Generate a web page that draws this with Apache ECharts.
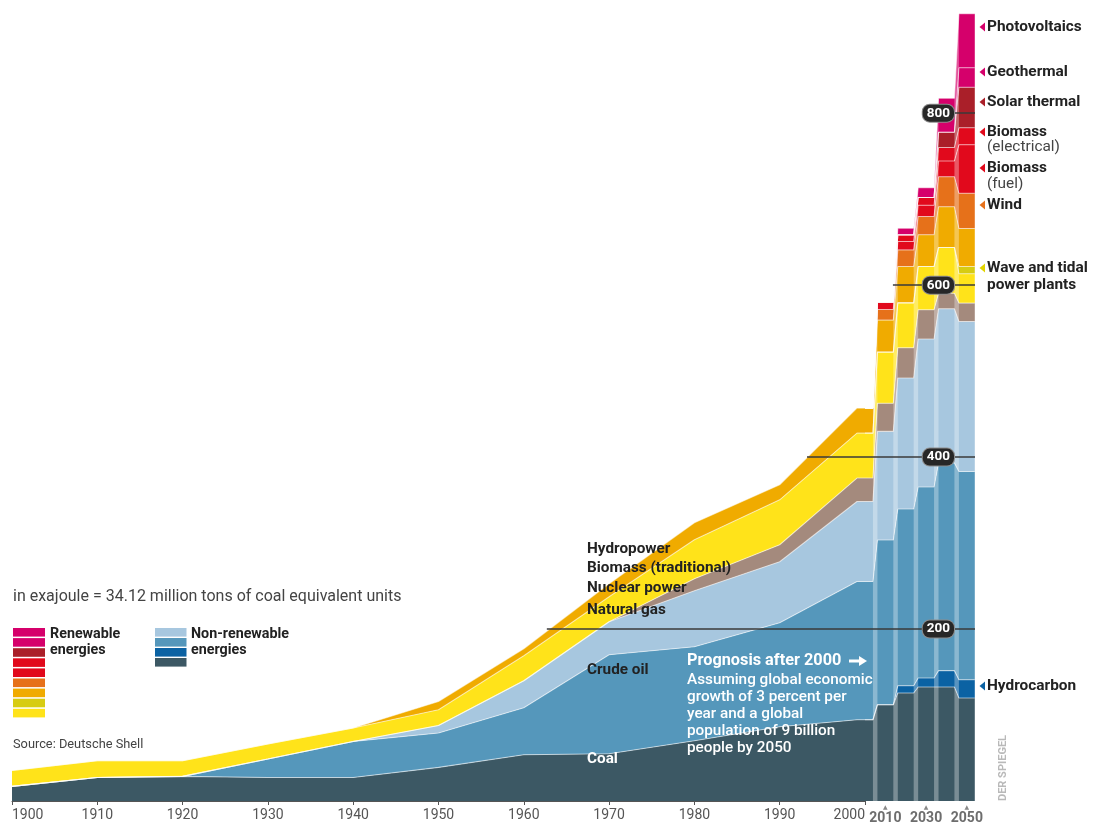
<!DOCTYPE html>
<html><head><meta charset="utf-8">
<script src="https://cdn.jsdelivr.net/npm/echarts@6/dist/echarts.min.js"></script>
<style>html,body{margin:0;padding:0;background:#fff}#c{width:1096px;height:826px}</style>
</head><body><div id="c"></div>
<script>
// ---------- data (exajoule) ----------
const histYears = [1900, 1910, 1920, 1930, 1940, 1950, 1960, 1970, 1980, 1990, 2000];
const coalHist        = [17.0, 27.4, 28.6, 27.4, 27.4, 39.1, 53.8, 55.0, 70.1, 86.4, 94.5];
const crudeHist       = [0, 0, 0, 21.4, 41.9, 40.0, 54.7, 115.1, 109.3, 120.9, 160.8];
const gasHist         = [0, 0, 0, 0, 0, 8.8, 31.4, 38.4, 65.1, 71.0, 93.1];
const nuclearHist     = [0, 0, 0, 0, 0, 0, 0, 0, 14.0, 19.7, 27.2];
const biomassTradHist = [18.6, 19.5, 18.3, 17.5, 15.6, 18.3, 29.1, 29.1, 45.3, 52.3, 52.3];
const hydroHist       = [0, 0, 0, 0, 0, 9.6, 8.1, 15.1, 19.8, 17.5, 29.1];

const forecastYears = [2000, 2010, 2020, 2030, 2040, 2050];
const coalFc         = [94.5, 112.0, 125.6, 132.6, 132.6, 119.8];
const hydrocarbonFc  = [0, 0, 8.5, 10.5, 19.0, 21.3];
const crudeFc        = [160.8, 191.5, 205.5, 222.1, 241.5, 242.2];
const gasFc          = [93.1, 126.4, 152.3, 172.1, 179.4, 174.4];
const nuclearFc      = [27.2, 32.8, 35.2, 34.1, 18.0, 21.4];
const biomassTradFc  = [52.3, 59.4, 52.3, 50.3, 53.3, 34.1];
const waveFc         = [0, 0, 0, 0, 0, 8.5];
const hydroFc        = [29.1, 37.2, 42.2, 36.9, 47.4, 44.1];
const windFc         = [0, 12.4, 19.4, 21.3, 34.9, 41.0];
const bioFuelFc      = [0, 8.5, 9.7, 13.0, 18.3, 56.4];
const bioElecFc      = [0, 0, 7.8, 9.1, 15.7, 19.8];
const solarThermalFc = [0, 0, 0, 0, 17.8, 47.1];
const geothermalFc   = [0, 0, 0, 0, 0, 22.7];
const pvFc           = [0, 0, 7.8, 11.3, 39.4, 62.8];

const yTicks = [200, 400, 600, 800];
const refLineStartA = {200: 1962.7, 400: 1993.2};        // where the reference lines begin (years)
const refLineStartB = {200: 2000, 400: 2000, 600: 2013.7, 800: 2033};

// ---------- styling ----------
const C = {
  coal: '#3c5864', hydrocarbon: '#0b62a3', crude: '#5597bb', gas: '#a7c7df',
  nuclear: '#a48a7d', bioTrad: '#ffe31a', wave: '#d7cc12', hydro: '#f0ab00',
  wind: '#e6711a', bioFuel: '#e1091c', bioElec: '#e1091c', solarTh: '#aa1f29',
  geo: '#d5006b', pv: '#d5006b'
};
const HALF = 3.9;          // half column width (years, forecast axis)
const PLATEAU_A = 0.94;    // same half width expressed on the historic axis
const Y_MAX = 920;
const FONT = 'Roboto, "Noto Sans", sans-serif';

// rows are [value, year] so that the stacked dimension is the value
function histData(vals) {
  const out = histYears.map((y, i) => [vals[i], y]);
  const last = out.pop();
  out.push([last[0], last[1] - PLATEAU_A], last);
  return out;
}
function fcData(vals) {
  const out = [[vals[0], forecastYears[0]], [vals[0], forecastYears[0] + HALF]];
  for (let i = 1; i < forecastYears.length; i++) {
    out.push([vals[i], forecastYears[i] - HALF], [vals[i], forecastYears[i] + HALF]);
  }
  return out;
}
function layer(name, data, color, axis) {
  return {
    name, type: 'line', stack: axis === 0 ? 'hist' : 'fc',
    xAxisIndex: axis, yAxisIndex: axis, data, encode: { x: 1, y: 0 },
    showSymbol: false, symbol: 'none', silent: true, animation: false,
    lineStyle: { width: 1.1, color: 'rgba(255,255,255,0.55)' },
    areaStyle: { color, opacity: 1 }
  };
}

const histSeries = [
  layer('Coal', histData(coalHist), C.coal, 0),
  layer('Crude oil', histData(crudeHist), C.crude, 0),
  layer('Natural gas', histData(gasHist), C.gas, 0),
  layer('Nuclear power', histData(nuclearHist), C.nuclear, 0),
  layer('Biomass (traditional)', histData(biomassTradHist), C.bioTrad, 0),
  layer('Hydropower', histData(hydroHist), C.hydro, 0)
];
const fcSeries = [
  layer('Coal', fcData(coalFc), C.coal, 1),
  layer('Hydrocarbon', fcData(hydrocarbonFc), C.hydrocarbon, 1),
  layer('Crude oil', fcData(crudeFc), C.crude, 1),
  layer('Natural gas', fcData(gasFc), C.gas, 1),
  layer('Nuclear power', fcData(nuclearFc), C.nuclear, 1),
  layer('Biomass (traditional)', fcData(biomassTradFc), C.bioTrad, 1),
  layer('Wave and tidal power plants', fcData(waveFc), C.wave, 1),
  layer('Hydropower', fcData(hydroFc), C.hydro, 1),
  layer('Wind', fcData(windFc), C.wind, 1),
  layer('Biomass (fuel)', fcData(bioFuelFc), C.bioFuel, 1),
  layer('Biomass (electrical)', fcData(bioElecFc), C.bioElec, 1),
  layer('Solar thermal', fcData(solarThermalFc), C.solarTh, 1),
  layer('Geothermal', fcData(geothermalFc), C.geo, 1),
  layer('Photovoltaics', fcData(pvFc), C.pv, 1)
];

// lighter gaps between the forecast columns (custom series on the forecast axes)
const gapData = [];
for (let i = 0; i < forecastYears.length - 1; i++) {
  gapData.push([forecastYears[i] + HALF, forecastYears[i + 1] - HALF]);
}
const gapSeries = {
  type: 'custom', xAxisIndex: 1, yAxisIndex: 1, silent: true, animation: false, z: 3,
  data: gapData, encode: { x: [0, 1] }, clip: true,
  renderItem: function (params, api) {
    const p0 = api.coord([api.value(0), Y_MAX]);
    const p1 = api.coord([api.value(1), 0]);
    return { type: 'rect', shape: { x: p0[0], y: p0[1], width: p1[0] - p0[0], height: p1[1] - p0[1] },
      style: { fill: 'rgba(255,255,255,0.32)' } };
  }
};

const refLineStyle = { color: '#3a3a3a', width: 1.6, type: 'solid' };
const overlayA = {
  type: 'line', xAxisIndex: 0, yAxisIndex: 0, data: [], silent: true, animation: false,
  markLine: {
    silent: true, symbol: 'none', animation: false, z: 5, label: { show: false }, lineStyle: refLineStyle,
    data: Object.keys(refLineStartA).map(v => [{ coord: [refLineStartA[v], +v] }, { coord: [2000, +v] }])
  }
};
const overlayB = {
  type: 'line', xAxisIndex: 1, yAxisIndex: 1, data: [], silent: true, animation: false,
  markLine: {
    silent: true, symbol: 'none', animation: false, z: 5, label: { show: false }, lineStyle: refLineStyle,
    data: Object.keys(refLineStartB).map(v => [{ coord: [refLineStartB[v], +v] }, { coord: [2054, +v] }])
  }
};

// ---------- annotations ----------
const g = [];
function txt(x, y, text, opt) {
  g.push({ type: 'text', x, y, z: 100, silent: true, style: Object.assign({
    text, fill: '#222', fontFamily: FONT, fontSize: 15.4, fontWeight: 'bold', verticalAlign: 'middle', align: 'left'
  }, opt || {}) });
}
function tri(y, color) {
  g.push({ type: 'polygon', z: 100, silent: true, shape: { points: [[985, y - 4.5], [985, y + 4.5], [979.5, y]] }, style: { fill: color } });
}
// right-hand labels
tri(27, C.pv); txt(987, 27, 'Photovoltaics');
tri(72, C.geo); txt(987, 72, 'Geothermal');
tri(102, C.solarTh); txt(987, 102, 'Solar thermal');
tri(132, C.bioElec); txt(987, 132, 'Biomass'); txt(987, 147, '(electrical)', { fontWeight: 'normal', fill: '#444' });
tri(168, C.bioFuel); txt(987, 168, 'Biomass'); txt(987, 184, '(fuel)', { fontWeight: 'normal', fill: '#444' });
tri(205, C.wind); txt(987, 205, 'Wind');
tri(268, '#e2d400'); txt(987, 268, 'Wave and tidal'); txt(987, 285, 'power plants');
tri(686, C.hydrocarbon); txt(987, 686, 'Hydrocarbon');

// in-chart labels
const inFont = { fontSize: 15.3 };
txt(587, 549, 'Hydropower', inFont);
txt(587, 568, 'Biomass (traditional)', inFont);
txt(587, 588, 'Nuclear power', inFont);
txt(587, 610, 'Natural gas', inFont);
txt(587, 670, 'Crude oil', inFont);
txt(587, 759, 'Coal', { fontSize: 15.3, fill: '#fff' });
txt(687, 661, 'Prognosis after 2000', { fontSize: 16.3, fill: '#fff' });
g.push({ type: 'polyline', z: 100, silent: true, shape: { points: [[849, 661], [861, 661]] }, style: { stroke: '#fff', lineWidth: 3 } });
g.push({ type: 'polygon', z: 100, silent: true, shape: { points: [[859, 656], [867, 661], [859, 666]] }, style: { fill: '#fff' } });
['Assuming global economic', 'growth of 3 percent per', 'year and a global', 'population of 9 billion', 'people by 2050']
  .forEach((t, i) => txt(687, 680 + i * 17, t, { fontSize: 15.3, fontWeight: 500, fill: '#fff' }));

// header / source
txt(13, 597, 'in exajoule = 34.12 million tons of coal equivalent units', { fontSize: 16, fontWeight: 'normal', fill: '#444' });
txt(13, 745, 'Source: Deutsche Shell', { fontSize: 12.8, fontWeight: 'normal', fill: '#444' });
g.push({ type: 'text', x: 1003, y: 801, rotation: Math.PI / 2, z: 100, silent: true,
  style: { text: 'DER SPIEGEL', fill: '#b9b9b9', fontFamily: FONT, fontSize: 11, fontWeight: 'bold', verticalAlign: 'middle', align: 'left' } });

// legend swatches
const renewSw = [C.pv, C.geo, C.solarTh, C.bioElec, C.bioFuel, C.wind, C.hydro, C.wave, C.bioTrad];
renewSw.forEach((col, i) => g.push({ type: 'rect', z: 100, silent: true, shape: { x: 13, y: 628 + i * 10.1, width: 32, height: 8.6 }, style: { fill: col } }));
const nonRenewSw = [C.gas, C.crude, C.hydrocarbon, C.coal];
nonRenewSw.forEach((col, i) => g.push({ type: 'rect', z: 100, silent: true, shape: { x: 155, y: 628 + i * 10, width: 31.5, height: 8.6 }, style: { fill: col } }));
txt(50, 634, 'Renewable', { fontSize: 14.3 }); txt(50, 650, 'energies', { fontSize: 14.3 });
txt(191, 634, 'Non-renewable', { fontSize: 14.3 }); txt(191, 650, 'energies', { fontSize: 14.3 });

// ---------- chart ----------
const chart = echarts.init(document.getElementById('c'), null, { renderer: 'canvas' });
chart.setOption({
  animation: false,
  backgroundColor: '#fff',
  grid: [
    { left: 12, right: 231, top: 10, bottom: 25, containLabel: false },
    { left: 865, right: 121, top: 10, bottom: 25, containLabel: false }
  ],
  xAxis: [
    { type: 'value', gridIndex: 0, min: 1900, max: 2000, interval: 10,
      axisLine: { show: true, lineStyle: { color: '#555', width: 1 } },
      axisTick: { show: true, length: 4, lineStyle: { color: '#555' } },
      splitLine: { show: false },
      axisLabel: { color: '#555', fontFamily: FONT, fontSize: 14, margin: 7, alignMinLabel: 'left', alignMaxLabel: 'right',
        formatter: v => String(v) } },
    { type: 'value', gridIndex: 1, min: 2000, max: 2054, interval: 10,
      axisLine: { show: false }, axisTick: { show: false }, splitLine: { show: false },
      axisLabel: { margin: 2, showMaxLabel: false,
        formatter: v => (v === 2010 || v === 2030 || v === 2050) ? '{t|▲}\n{y|' + v + '}' : '',
        rich: { t: { fontFamily: '"DejaVu Sans"', fontSize: 6, color: '#888', lineHeight: 8, align: 'center' },
                y: { fontFamily: FONT, fontSize: 14, fontWeight: 'bold', color: '#6d6d6d', lineHeight: 14, align: 'center' } } } }
  ],
  yAxis: [
    { type: 'value', gridIndex: 0, min: 0, max: Y_MAX, interval: 200, show: false },
    { type: 'value', gridIndex: 1, min: 0, max: Y_MAX, interval: 200, position: 'right', z: 10,
      axisLine: { show: false }, axisTick: { show: false }, splitLine: { show: false },
      axisLabel: { inside: true, margin: 21, showMinLabel: false, showMaxLabel: false,
        formatter: v => yTicks.indexOf(v) >= 0 ? String(v) : '',
        color: '#fff', fontFamily: FONT, fontSize: 13.5, fontWeight: 'bold',
        backgroundColor: '#272727', borderColor: '#8c8c8c', borderWidth: 1, borderRadius: 7, padding: [2, 4, 1, 4] } }
  ],
  series: [...histSeries, overlayA, ...fcSeries, gapSeries, overlayB],
  graphic: g
});
</script>
</body></html>
